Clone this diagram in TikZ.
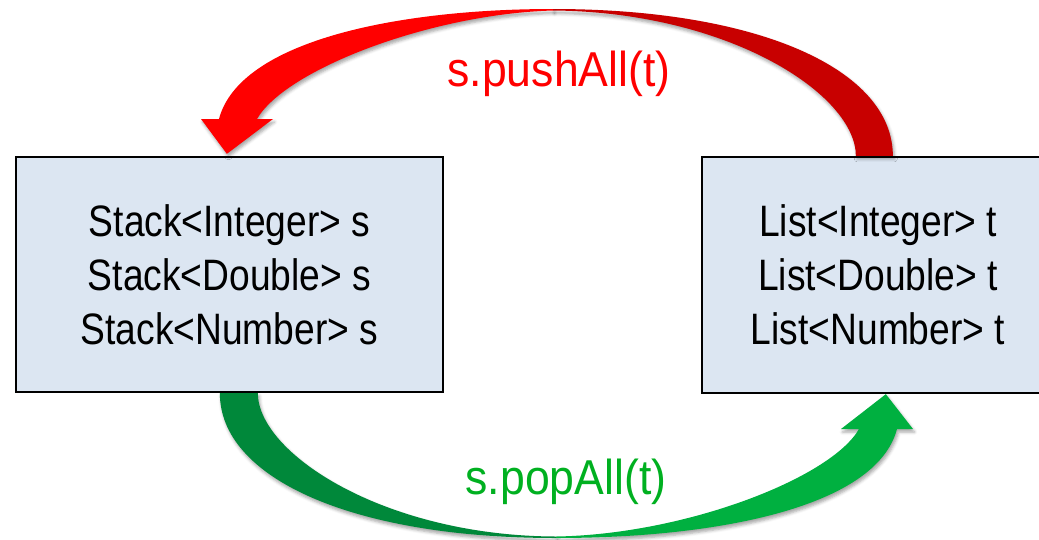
\documentclass[tikz,border=0pt]{standalone}
\usepackage{fontspec}
\setmainfont{Liberation Sans}
\newfontfamily\boxfont[FakeStretch=0.845]{Liberation Sans}
\newfontfamily\labelfont[FakeStretch=0.91]{Liberation Sans}
\usetikzlibrary{calc,shadows.blur}
\definecolor{boxfill}{HTML}{DCE6F2}
\definecolor{redlight}{HTML}{FF0000}
\definecolor{reddark}{HTML}{C80000}
\definecolor{greenlight}{HTML}{00B040}
\definecolor{greendark}{HTML}{00883A}
\definecolor{greentext}{HTML}{00B020}
\begin{document}
\begin{tikzpicture}[x=1pt,y=-1pt,
  typebox/.style={draw=black, line width=2.3pt, fill=boxfill, inner sep=0pt,
    align=center, font=\boxfont\fontsize{44}{54}\selectfont},
  callname/.style={anchor=base, font=\labelfont\fontsize{49}{58}\selectfont},
  arrowpart/.style={blur shadow={shadow xshift=1.5pt, shadow yshift=-3pt,
    shadow blur radius=3pt, shadow opacity=35}}
]
\useasboundingbox (0,0) rectangle (1039,539);

% the two variable declarations
\node[typebox, minimum width=427, minimum height=235] (s) at (229.5,274.5)
  {Stack<Integer> s\\Stack<Double> s\\Stack<Number> s};
\node[typebox, minimum width=352, minimum height=236] (t) at (878,275)
  {List<Integer> t\\List<Double> t\\List<Number> t};

% end points of the curved block arrows
\coordinate (rTailOut) at ($(t.north west)+(192,0)$);
\coordinate (rTailIn)  at ($(t.north west)+(155,0)$);
\coordinate (rTip)     at ($(s.north west)+(212,-2)$);
\coordinate (rTop)     at (553,9);
\coordinate (rTopIn)   at (553,10.5);
\coordinate (gTailOut) at ($(s.south west)+(205,0)$);
\coordinate (gTailIn)  at ($(s.south west)+(243,0)$);
\coordinate (gTip)     at ($(t.south west)+(185,0)$);
\coordinate (gBot)     at (556,538);
\coordinate (gBotIn)   at (556,536.5);

% pushAll: from t over the top to s
\fill[reddark, arrowpart] (rTop) .. controls (760,9) and (rTailOut|-0,70) .. (rTailOut)
  -- (rTailIn) .. controls (rTailIn|-0,95) and (730,12) .. (rTopIn) -- cycle;
\fill[redlight, arrowpart] (rTop) .. controls (400,9) and (240,40) .. (219,119)
  -- (201,119) -- (rTip) -- (273,119) -- (257,119)
  .. controls (285,70) and (430,14) .. (rTopIn) -- cycle;

% popAll: from s under the bottom to t
\fill[greendark, arrowpart] (gBot) .. controls (352,538) and (gTailOut|-0,478) .. (gTailOut)
  -- (gTailIn) .. controls (gTailIn|-0,453) and (384,536) .. (gBotIn) -- cycle;
\fill[greenlight, arrowpart] (gBot) .. controls (715,538) and (876,508) .. (897,429)
  -- (913,429) -- (gTip) -- (841,429) -- (859,429)
  .. controls (831,478) and (685,534.5) .. (gBotIn) -- cycle;

\node[callname, text=redlight] (push) at (559,86) {s.pushAll(t)};
\node[callname, text=greentext] (pop) at (566,494) {s.popAll(t)};
\end{tikzpicture}
\end{document}
